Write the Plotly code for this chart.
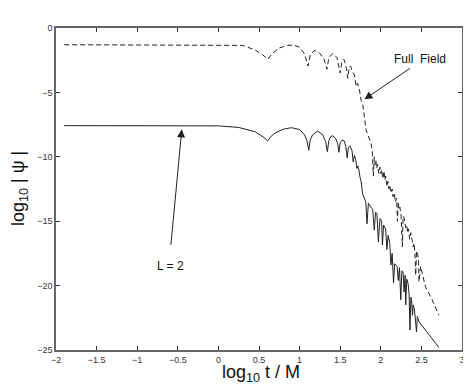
# %% Requirements and constants
import plotly.graph_objects as go

# L = 2 mode (solid)
l2_x = [-1.9, -1.0, -0.5, 0.0, 0.25, 0.45, 0.55, 0.608, 0.65, 0.7, 0.8, 0.9, 1.0,
        1.06, 1.09, 1.113, 1.13, 1.16, 1.22, 1.28, 1.32, 1.342, 1.36, 1.38, 1.41,
        1.45, 1.47, 1.484, 1.50, 1.52, 1.545, 1.57, 1.586, 1.60, 1.62, 1.645, 1.66,
        1.675, 1.69, 1.705, 1.716, 1.73, 1.745, 1.757, 1.777, 1.798, 1.815, 1.83,
        1.847, 1.87, 1.90, 1.92, 1.935, 1.952, 1.97, 1.99, 2.01, 2.02, 2.035, 2.06,
        2.075, 2.09, 2.11, 2.125, 2.14, 2.157, 2.17, 2.185, 2.20, 2.215, 2.23, 2.246,
        2.26, 2.275, 2.287, 2.30, 2.307, 2.32, 2.335, 2.348, 2.36, 2.37, 2.38, 2.39,
        2.40, 2.415, 2.43, 2.44, 2.45, 2.47, 2.715]
l2_y = [-7.58, -7.58, -7.58, -7.6, -7.72, -8.05, -8.45, -8.77, -8.4, -8.15, -7.85,
        -7.74, -7.88, -8.3, -8.75, -9.5, -8.7, -8.3, -8.0, -8.25, -8.8, -9.6, -8.75,
        -8.45, -8.36, -8.65, -9.0, -9.65, -8.9, -8.72, -8.72, -9.2, -10.1, -9.3,
        -9.15, -9.5, -10.4, -9.9, -10.2, -10.9, -10.7, -11.0, -11.6, -11.9, -12.9,
        -13.2, -13.5, -15.2, -13.6, -13.85, -14.1, -15.7, -14.3, -14.4, -16.6, -14.8,
        -15.0, -16.85, -15.3, -15.6, -17.2, -16.1, -16.7, -18.4, -17.5, -19.8, -18.3,
        -18.4, -18.5, -19.6, -18.6, -21.1, -18.85, -19.0, -20.5, -19.2, -21.5, -19.5,
        -19.8, -20.6, -23.45, -20.9, -21.2, -22.3, -21.5, -21.9, -22.7, -23.6, -22.4,
        -22.8, -24.8]

# full field (dashed)
ff_x = [-1.9, -1.0, 0.0, 0.3, 0.45, 0.55, 0.608, 0.66, 0.75, 0.85, 0.93, 1.0, 1.06,
        1.105, 1.13, 1.18, 1.24, 1.3, 1.337, 1.36, 1.41, 1.46, 1.50, 1.52, 1.545,
        1.57, 1.594, 1.61, 1.627, 1.65, 1.676, 1.696, 1.715, 1.737, 1.757, 1.777,
        1.798, 1.818, 1.84, 1.86, 1.88, 1.895, 1.908, 1.92, 1.93, 1.94, 1.95, 1.96,
        1.975, 1.99, 2.0, 2.01, 2.025, 2.04, 2.05, 2.06, 2.075, 2.09, 2.1, 2.11,
        2.125, 2.14, 2.15, 2.165, 2.18, 2.195, 2.205, 2.215, 2.225, 2.235, 2.25,
        2.266, 2.275, 2.29, 2.3, 2.305, 2.32, 2.33, 2.34, 2.355, 2.37, 2.385, 2.395,
        2.40, 2.41, 2.42, 2.43, 2.44, 2.455, 2.465, 2.47, 2.49, 2.55, 2.633, 2.715]
ff_y = [-1.3, -1.3, -1.3, -1.35, -1.7, -2.1, -2.43, -2.0, -1.55, -1.35, -1.32, -1.5,
        -2.0, -2.95, -2.1, -1.76, -1.9, -2.4, -3.2, -2.3, -1.97, -2.3, -3.5, -2.7,
        -2.43, -2.9, -3.9, -3.1, -2.95, -3.4, -3.65, -4.55, -4.3, -4.8, -5.6, -5.9,
        -6.9, -7.9, -8.3, -8.7, -8.95, -9.6, -11.5, -10.0, -10.6, -10.3, -10.9, -10.6,
        -11.3, -10.8, -11.3, -11.0, -11.7, -11.1, -11.8, -11.5, -12.3, -11.9, -12.5,
        -12.2, -12.8, -12.5, -13.1, -12.8, -13.5, -13.2, -15.0, -13.5, -14.1, -13.9,
        -14.6, -17.0, -14.6, -14.8, -15.3, -15.5, -15.3, -15.9, -15.6, -16.4, -15.9,
        -16.4, -16.9, -17.0, -16.7, -17.4, -19.2, -17.3, -17.6, -18.2, -19.7, -18.5,
        -20.1, -21.1, -22.3]

x_ticks = [-2, -1.5, -1, -0.5, 0, 0.5, 1, 1.5, 2, 2.5, 3]
y_ticks = [0, -5, -10, -15, -20, -25]

font = "Liberation Sans, Arial, sans-serif"

# %% Figure
fig = go.Figure()
fig.add_trace(go.Scatter(x=ff_x, y=ff_y, mode="lines",
                         line=dict(color="#222", width=1, dash="5px,3px")))
fig.add_trace(go.Scatter(x=l2_x, y=l2_y, mode="lines",
                         line=dict(color="#222", width=1)))

axis = dict(showgrid=False, zeroline=False, showline=True, linecolor="#666",
            linewidth=1.5, mirror="ticks", ticks="inside", ticklen=4,
            tickcolor="#333", tickfont=dict(family=font, size=9, color="#333"))
fig.update_xaxes(range=[-2, 3], tickvals=x_ticks, **axis)
fig.update_yaxes(range=[-25, 0], tickvals=y_ticks, **axis)

fig.add_annotation(x=2.486, y=-2.41, text="Full\u00a0 Field", showarrow=False,
                   font=dict(family=font, size=12, color="#111"))
fig.add_annotation(x=1.798, y=-5.54, text="", ax=47, ay=-32, showarrow=True,
                   arrowhead=2, arrowsize=1.6, arrowwidth=1, arrowcolor="#222",
                   standoff=0)
fig.add_annotation(x=-0.585, y=-18.48, text="L = 2", showarrow=False,
                   font=dict(family=font, size=12, color="#111"))
fig.add_annotation(x=-0.451, y=-7.87, text="", ax=-11, ay=117, showarrow=True,
                   arrowhead=2, arrowsize=1.6, arrowwidth=1, arrowcolor="#222",
                   standoff=0)

# axis titles
fig.add_annotation(xref="paper", yref="paper", x=0.504, y=0, yanchor="top",
                   yshift=-10, showarrow=False,
                   text="log<sub>10</sub> t / M",
                   font=dict(family=font, size=18, color="#111"))
fig.add_annotation(xref="paper", yref="paper", x=0, y=0.5, xanchor="center",
                   xshift=-37, textangle=-90, showarrow=False,
                   text="log<sub>10</sub> | \u03c8 |",
                   font=dict(family=font, size=18, color="#111"))

# page body adds an 8px offset, so the figure is 8px smaller
fig.update_layout(width=463, height=382, showlegend=False,
                  margin=dict(l=48, r=6, t=20, b=40),
                  paper_bgcolor="white", plot_bgcolor="white")

fig.write_html("out.html")
